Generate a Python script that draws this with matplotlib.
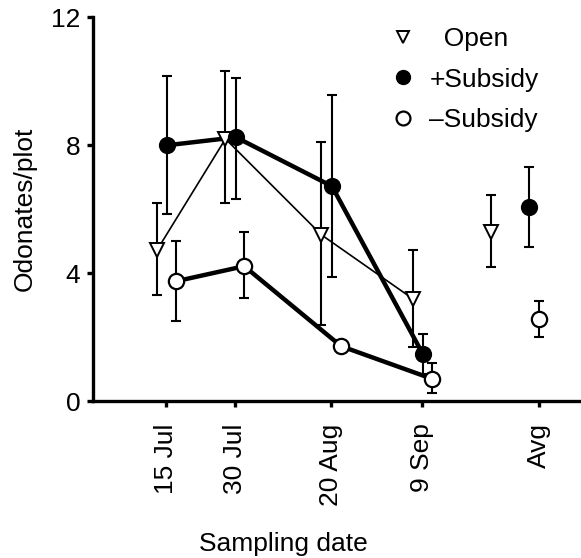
import numpy as np
import matplotlib
matplotlib.use("Agg")
import matplotlib.pyplot as plt
from matplotlib.lines import Line2D

plt.rcParams["font.family"] = ["Liberation Sans", "DejaVu Sans"]
plt.rcParams["font.size"] = 19

# sampling dates as days since 15 Jul, plus an "Avg" slot
tick_days = [0, 15, 36, 56, 81.5]
tick_labels = ["15 Jul", "30 Jul", "20 Aug", "9 Sep", "Avg"]

# per-series x (slightly offset around each date)
open_days = [-2, 13, 34, 54]
plus_days = [0.2, 15.3, 36.3, 56.2]
minus_days = [2.2, 17.1, 38.3, 58.2]
avg_days = {"open": 71, "plus": 79.5, "minus": 81.5}

# Odonates per plot (mean, lower bar, upper bar)
open_mean = [4.72, 8.2, 5.2, 3.2]
open_lo = [3.31, 6.19, 2.38, 1.7]
open_hi = [6.19, 10.31, 8.1, 4.72]

plus_mean = [8.0, 8.25, 6.72, 1.47]
plus_lo = [5.84, 6.33, 3.87, 0.85]
plus_hi = [10.16, 10.1, 9.58, 2.1]

minus_mean = [3.75, 4.22, 1.72, 0.7]
minus_lo = [2.5, 3.22, 1.55, 0.25]
minus_hi = [5.0, 5.28, 1.9, 1.19]

# averages over the season
avg_mean = {"open": 5.28, "plus": 6.06, "minus": 2.56}
avg_lo = {"open": 4.2, "plus": 4.81, "minus": 2.0}
avg_hi = {"open": 6.45, "plus": 7.31, "minus": 3.13}


def yerr(mean, lo, hi):
    mean = np.asarray(mean)
    return [mean - np.asarray(lo), np.asarray(hi) - mean]


fig = plt.figure(figsize=(5.81, 5.58), dpi=100)
ax = fig.add_axes([0.160, 0.281, 0.84, 0.688])

eb_kw = dict(ecolor="black", elinewidth=1.5, capsize=3.4, capthick=1.5, ls="none", zorder=2)

# error bars first
ax.errorbar(open_days, open_mean, yerr=yerr(open_mean, open_lo, open_hi), **eb_kw)
ax.errorbar(plus_days, plus_mean, yerr=yerr(plus_mean, plus_lo, plus_hi), **eb_kw)
ax.errorbar(minus_days, minus_mean, yerr=yerr(minus_mean, minus_lo, minus_hi), **eb_kw)
for k in ("open", "plus", "minus"):
    ax.errorbar([avg_days[k]], [avg_mean[k]],
                yerr=[[avg_mean[k] - avg_lo[k]], [avg_hi[k] - avg_mean[k]]], **eb_kw)

# connecting lines
ax.plot(open_days, open_mean, color="black", lw=1.2, zorder=3)
ax.plot(plus_days, plus_mean, color="black", lw=3.2, zorder=3)
ax.plot(minus_days, minus_mean, color="black", lw=3.2, zorder=3)

# markers
tri_kw = dict(marker="v", ms=10, mfc="white", mec="black", mew=1.4, ls="none", zorder=4)
fill_kw = dict(marker="o", ms=11, mfc="black", mec="black", mew=1.4, ls="none", zorder=4)
open_kw = dict(marker="o", ms=11, mfc="white", mec="black", mew=1.6, ls="none", zorder=4)

ax.plot(open_days + [avg_days["open"]], open_mean + [avg_mean["open"]], **tri_kw)
ax.plot(plus_days + [avg_days["plus"]], plus_mean + [avg_mean["plus"]], **fill_kw)
ax.plot(minus_days + [avg_days["minus"]], minus_mean + [avg_mean["minus"]], **open_kw)

ax.set_xlim(-16, 90.8)
ax.set_ylim(0, 12)
ax.set_yticks([0, 4, 8, 12])
ax.set_xticks(tick_days)
ax.set_xticklabels(tick_labels, rotation=90)

for side in ("top", "right"):
    ax.spines[side].set_visible(False)
for side in ("left", "bottom"):
    ax.spines[side].set_linewidth(2.4)
ax.tick_params(axis="both", direction="out", length=4, width=2.4, pad=5)
ax.tick_params(axis="x", pad=12)

ax.set_ylabel("Odonates/plot", labelpad=10)
ax.set_xlabel("Sampling date")
ax.xaxis.set_label_coords(0.39, -0.34)

handles = [
    Line2D([], [], marker="v", ms=9, mfc="white", mec="black", mew=1.4, ls="none"),
    Line2D([], [], marker="o", ms=10, mfc="black", mec="black", ls="none"),
    Line2D([], [], marker="o", ms=10, mfc="white", mec="black", mew=1.6, ls="none"),
]
labels = ["  Open", "+Subsidy", "\u2013Subsidy"]
ax.legend(handles, labels, loc="upper left", bbox_to_anchor=(0.608, 0.974),
          frameon=False, handlelength=1.0, handletextpad=0.5,
          labelspacing=0.62, borderpad=0, borderaxespad=0)

fig.savefig("out.png", dpi=100)
